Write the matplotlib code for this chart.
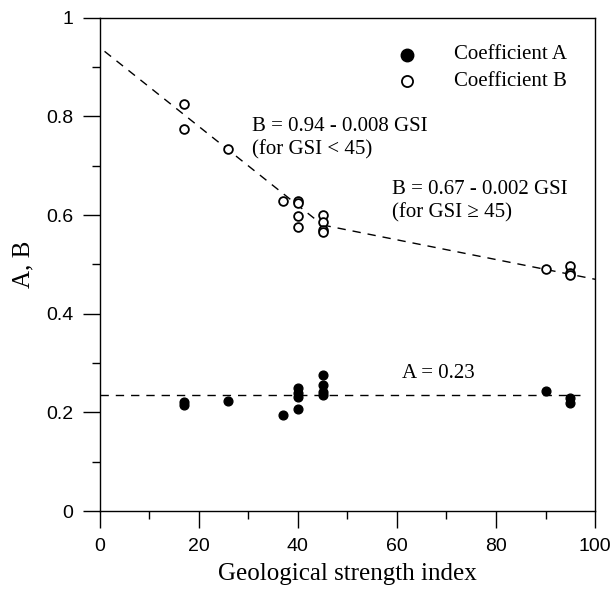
import matplotlib
matplotlib.use('Agg')
import matplotlib.pyplot as plt
from matplotlib.ticker import MultipleLocator

# Coefficient A (filled dots)
gsi_a = [17, 17, 26, 37, 40, 40, 40, 40, 45, 45, 45, 45, 90, 95, 95]
coef_a = [0.221, 0.215, 0.223, 0.195, 0.207, 0.231, 0.239, 0.249,
          0.276, 0.256, 0.242, 0.235, 0.243, 0.229, 0.219]

# Coefficient B (open circles)
gsi_b = [17, 17, 26, 37, 40, 40, 40, 40, 45, 45, 45, 45, 90, 95, 95, 95]
coef_b = [0.826, 0.775, 0.734, 0.629, 0.629, 0.625, 0.598, 0.576,
          0.600, 0.587, 0.570, 0.566, 0.490, 0.497, 0.482, 0.478]

# fitted lines
fit_low_x = [1, 45]
fit_high_x = [45, 100]
a_line_x = [0, 97]
a_mean = 0.235

serif = ['Liberation Serif', 'DejaVu Serif']
sans = ['Liberation Sans', 'DejaVu Sans']

fig = plt.figure(figsize=(6.11, 5.93), dpi=100)
ax = fig.add_axes([0.163, 0.138, 0.811, 0.832])

dash = (0, (6, 5))
ax.plot(fit_low_x, [0.94 - 0.008 * x for x in fit_low_x], ls=dash, color='black', lw=1)
ax.plot(fit_high_x, [0.67 - 0.002 * x for x in fit_high_x], ls=dash, color='black', lw=1)
ax.plot(a_line_x, [a_mean, a_mean], ls=dash, color='black', lw=1)

ax.plot(gsi_a, coef_a, 'o', color='black', ms=6.3, zorder=3)
ax.plot(gsi_b, coef_b, 'o', mfc='white', mec='black', mew=1.3, ms=6.3, zorder=3)

# legend: markers + text
ax.plot([0.62], [0.925], 'o', color='black', ms=9, transform=ax.transAxes, clip_on=False)
ax.plot([0.62], [0.871], 'o', mfc='white', mec='black', mew=1.3, ms=8, transform=ax.transAxes, clip_on=False)
ax.text(0.715, 0.925, 'Coefficient A', transform=ax.transAxes, va='center', fontsize=15, family=serif)
ax.text(0.715, 0.871, 'Coefficient B', transform=ax.transAxes, va='center', fontsize=15, family=serif)

ax.text(30.7, 0.779, 'B = 0.94 - 0.008 GSI', va='center', fontsize=15, family=serif)
ax.text(30.7, 0.733, '(for GSI < 45)', va='center', fontsize=15, family=serif)
ax.text(59, 0.651, 'B = 0.67 - 0.002 GSI', va='center', fontsize=15, family=serif)
ax.text(59, 0.604, '(for GSI \u2265 45)', va='center', fontsize=15, family=serif)
ax.text(61, 0.28, 'A = 0.23', va='center', fontsize=15, family=serif)

ax.set_xlim(0, 100)
ax.set_ylim(0, 1)
ax.xaxis.set_major_locator(MultipleLocator(20))
ax.xaxis.set_minor_locator(MultipleLocator(10))
ax.yaxis.set_minor_locator(MultipleLocator(0.1))
ax.set_yticks([0, 0.2, 0.4, 0.6, 0.8, 1])
ax.set_yticklabels(['0', '0.2', '0.4', '0.6', '0.8', '1'])
ax.tick_params(which='major', direction='out', length=12, width=1, labelsize=14, pad=7)
ax.tick_params(which='minor', direction='out', length=6, width=1)
for lab in ax.get_xticklabels() + ax.get_yticklabels():
    lab.set_family(sans)
for s in ax.spines.values():
    s.set_linewidth(1)

ax.set_xlabel('Geological strength index', fontsize=18, family=serif, labelpad=6)
ax.set_ylabel('A, B', fontsize=18, family=serif, labelpad=8)

fig.savefig('out.png', dpi=100)
